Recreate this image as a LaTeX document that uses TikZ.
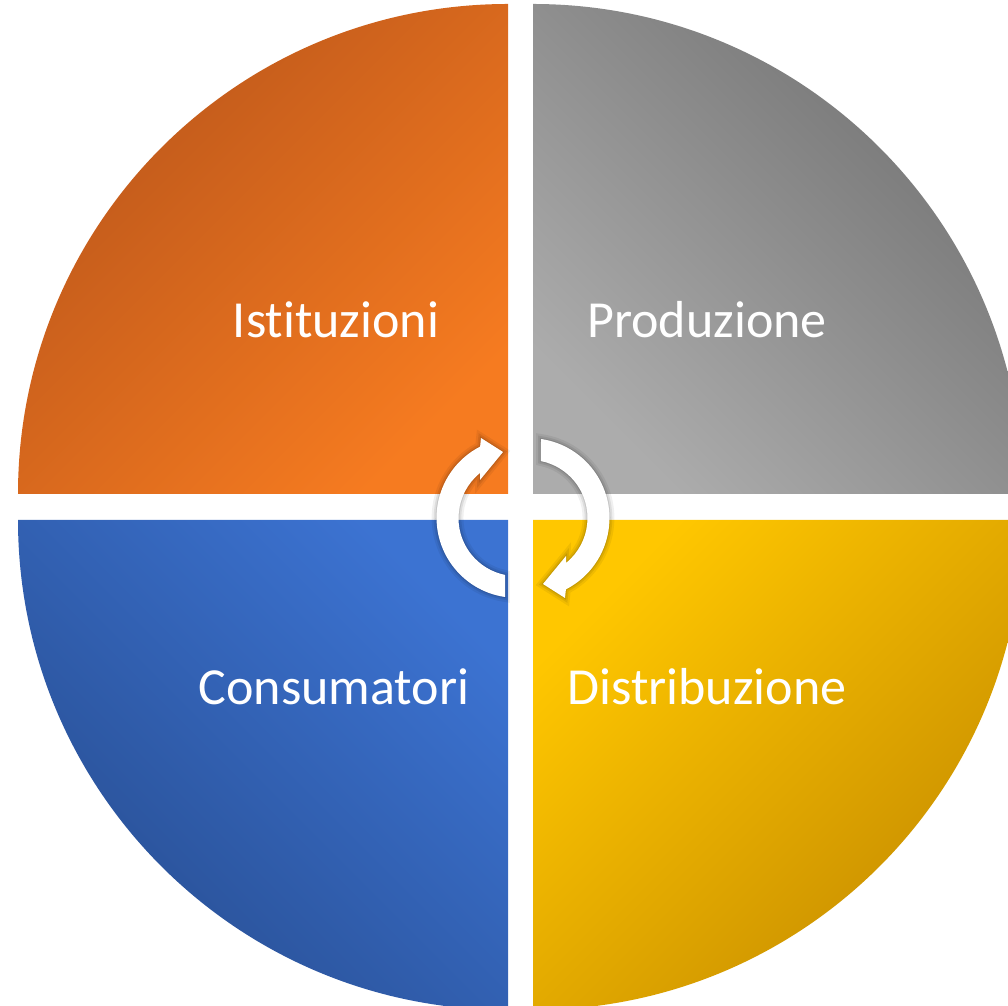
\documentclass[tikz,border=0pt]{standalone}
\usepackage{fontspec}
\setmainfont[Ligatures={NoCommon}]{Carlito}
\usetikzlibrary{shadings}
\definecolor{istdark}{RGB}{186,86,27}
\definecolor{istlight}{RGB}{246,123,32}
\definecolor{proddark}{RGB}{114,114,114}
\definecolor{prodlight}{RGB}{172,172,172}
\definecolor{distlight}{RGB}{255,199,0}
\definecolor{distdark}{RGB}{198,140,0}
\definecolor{conslight}{RGB}{60,115,210}
\definecolor{consdark}{RGB}{40,78,146}
\tikzset{
  quadtext/.style={text=white, font=\fontsize{37}{44}\selectfont, anchor=base},
  cyclearrow/.style={fill=white, draw=none,
    preaction={draw=black, opacity=0.06, line width=7pt},
    preaction={draw=black, opacity=0.08, line width=4pt},
    preaction={draw=black, opacity=0.10, line width=1.5pt}},
}
\begin{document}
\begin{tikzpicture}[x=0.025cm, y=0.025cm]
  \useasboundingbox (0,0) rectangle (1008,1006);
  \clip (0,0) rectangle (1008,1006);
  \shade[top color=istdark, bottom color=istlight, shading angle=45]
    (508,512) -- (18,512) arc[start angle=180, end angle=90, radius=490] -- cycle;
  \shade[top color=proddark, bottom color=prodlight, shading angle=-45]
    (533,512) -- (533,1002) arc[start angle=90, end angle=0, radius=490] -- cycle;
  \shade[top color=conslight, bottom color=consdark, shading angle=-45]
    (508,486) -- (508,-4) arc[start angle=270, end angle=180, radius=490] -- cycle;
  \shade[top color=distlight, bottom color=distdark, shading angle=45]
    (533,486) -- (1023,486) arc[start angle=0, end angle=-90, radius=490] -- cycle;
  \path[cyclearrow] (505,409) arc[start angle=261.7, end angle=117.1, radius=80]
    -- (481,568) -- (503,554) -- (480,526) -- (480,533)
    arc[start angle=129, end angle=258.6, radius=58] -- cycle;
  \begin{scope}[rotate around={180:(523,488)}]
    \path[cyclearrow] (505,409) arc[start angle=261.7, end angle=117.1, radius=80]
      -- (481,568) -- (503,554) -- (480,526) -- (480,533)
      arc[start angle=129, end angle=258.6, radius=58] -- cycle;
  \end{scope}
  \node[quadtext] (ist) at (336,668) {Istituzioni};
  \node[quadtext] (prod) at (707,668) {Produzione};
  \node[quadtext] (cons) at (334,301) {Consumatori};
  \node[quadtext] (dist) at (707,301) {Distribuzione};
\end{tikzpicture}
\end{document}
